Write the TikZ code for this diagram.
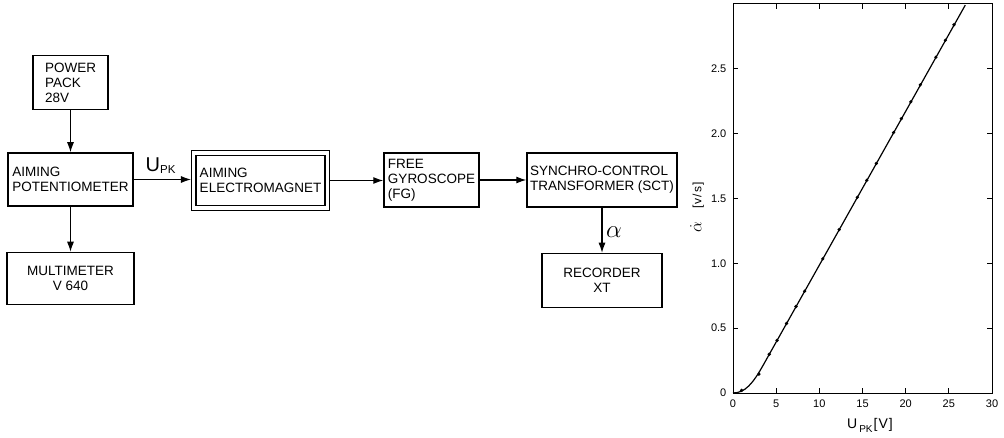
\RequirePackage{fix-cm}
\documentclass[tikz,border=0pt]{standalone}
\usepackage{fontspec}
\setmainfont{Liberation Sans}
\usepackage{tikz}
\usetikzlibrary{arrows.meta,positioning}
\tikzset{
  block/.style={draw,line width=1.5pt,minimum height=54pt,align=left,inner sep=3pt,font=\fontsize{13.5}{15}\selectfont},
  cblock/.style={block,align=center},
  dblock/.style={block,double,line width=1.2pt,double distance=3.2pt,outer sep=2.8pt},
  arrow/.style={-{Latex[length=10pt,width=7pt]},line width=1.1pt},
  sig/.style={inner sep=0pt,font=\fontsize{20}{20}\selectfont},
  plotframe/.style={line width=1pt},
  axtick/.style={line width=0.8pt},
  ticklabel/.style={inner sep=0pt,font=\fontsize{11}{11}\selectfont},
  fitline/.style={line width=1.2pt},
  datapt/.style={fill=black}
}

\begin{document}
\begin{tikzpicture}[x=1pt,y=-1pt]
\useasboundingbox (0,0) rectangle (1004,438);

% signal chain
\node[block,minimum width=125pt,minimum height=53pt] (pot) at (70.5,179.5) {AIMING\\POTENTIOMETER};
\node[block,minimum width=75pt,above=42pt of pot] (power) {POWER\\PACK\\28V};
\node[cblock,minimum width=127pt,minimum height=52pt,below=45pt of pot] (meter) {MULTIMETER\\V 640};
\node[dblock,minimum width=133.5pt,minimum height=55pt] (magnet) at (260.5,180.5) {AIMING\\ELECTROMAGNET};
\node[block,minimum width=95pt] (gyro) at (431.5,180) {FREE\\GYROSCOPE\\(FG)};
\node[block,minimum width=148pt] (sct) at (602,180) {SYNCHRO-CONTROL\\TRANSFORMER (SCT)};
\node[cblock,minimum width=120pt,below=45pt of sct] (rec) {RECORDER\\XT};

\draw[arrow] (power) -- (pot);
\draw[arrow] (pot) -- (meter);
\draw[arrow] (pot.east) -- (pot.east -| magnet.west);
\draw[arrow] (magnet.east) -- (magnet.east -| gyro.west);
\draw[arrow] (gyro) -- (sct);
\draw[arrow] (sct) -- (rec);

\node[sig,anchor=base west] (upk) at (145.5,172) {U\raisebox{-1.5pt}{\fontsize{11.5}{11.5}\selectfont PK}};
\node[sig,anchor=base west,font=\fontsize{25}{25}\selectfont] (alpha) at (606,238) {$\alpha$};

% rate vs. voltage
\begin{scope}[shift={(733pt,-393pt)},x=8.633pt,y=129.7pt]
\draw[plotframe] (0,0) rectangle (30,3);
\foreach \u in {5,10,...,25} {
  \draw[axtick] (\u,0) -- ++(0,5pt);
  \draw[axtick] (\u,3) -- ++(0,-5pt);
}
\foreach \v in {0.5,1,1.5,2,2.5} {
  \draw[axtick] (0,\v) -- ++(5pt,0);
  \draw[axtick] (30,\v) -- ++(-5pt,0);
}
\foreach \u [count=\i] in {0,5,...,30}
  \node[ticklabel,anchor=north] (xl\i) at ([yshift=-7pt]\u,0) {\u};
\foreach \v/\txt [count=\i] in {0/0,0.5/0.5,1/1.0,1.5/1.5,2/2.0,2.5/2.5}
  \node[ticklabel,anchor=east] (yl\i) at ([xshift=-6.5pt]0,\v) {\txt};

\draw[fitline] (0,0) .. controls (1.4,0) and (2.3,0.073) .. (3.5,0.215) -- (26.9,2.99);
\foreach \u/\v in {1/0.02,3/0.145,4.2/0.299,5.1/0.405,6.2/0.536,7.3/0.667,8.3/0.785,10.4/1.034,12.3/1.26,14.4/1.509,15.5/1.64,16.6/1.77,18.6/2.008,19.5/2.115,20.6/2.245,21.7/2.376,23.5/2.589,24.6/2.72,25.6/2.839}
  \fill[datapt] (\u,\v) circle (1.8pt);
\end{scope}

\node[ticklabel,font=\fontsize{14}{14}\selectfont,anchor=base west] (xtitle) at (847,428)
  {U\hspace{2pt}\raisebox{-4pt}{\fontsize{10}{10}\selectfont PK}\hspace{1pt}[\kern1pt V\kern1pt]};
\node[ticklabel,font=\fontsize{12}{12}\selectfont,rotate=90] (ytitle) at (697,207.5)
  {{\fontsize{17}{17}\selectfont$\dot\alpha$}\hspace{13pt}[\kern1pt v\kern1pt/\kern1pt s\kern1pt]};
\end{tikzpicture}
\end{document}
